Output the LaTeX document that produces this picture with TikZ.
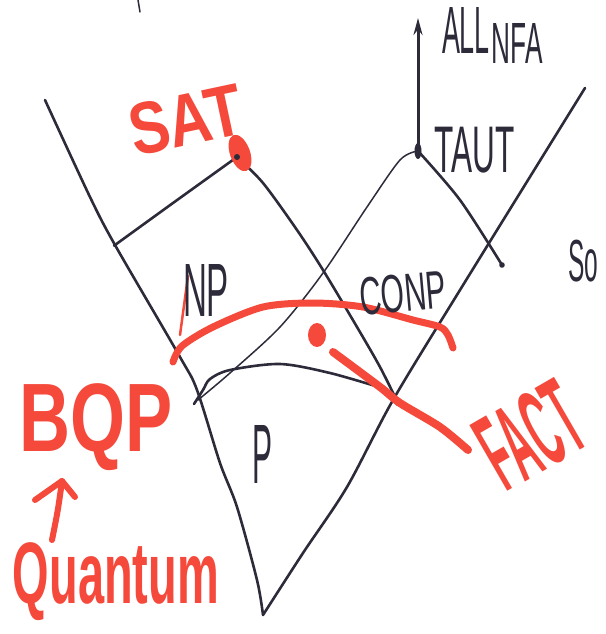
\documentclass[tikz,border=0pt]{standalone}
\usepackage{fontspec}
\setmainfont{Liberation Sans}
\usetikzlibrary{arrows.meta}
\definecolor{skink}{HTML}{2D2B3A}
\definecolor{skred}{HTML}{F4493B}
\tikzset{
  skpen/.style={
    draw=skink,
    line width=2.6pt,
    line cap=round,
    line join=round
  },
  skthin/.style={skpen, line width=1.5pt},
  skmarker/.style={
    draw=skred,
    line width=7pt,
    line cap=round,
    line join=round
  },
  skinklabel/.style={text=skink, inner sep=0pt},
  skredlabel/.style={text=skred, inner sep=0pt, font=\bfseries}
}
\newcommand{\skfit}[3]{\resizebox*{#1pt}{#2pt}{#3}}

\begin{document}
\begin{tikzpicture}[x=1pt,y=-1pt]
  \useasboundingbox (0,0) rectangle (605,634);

  % corner points of the cones
  \coordinate (sat) at (237,157);
  \coordinate (taut) at (418,151);
  \coordinate (allnfa) at (418,18);
  \coordinate (tip) at (263,615);
  \coordinate (npfoot) at (115,245);
  \coordinate (tautend) at (502,265);
  \coordinate (npend) at (398,403);
  \coordinate (conpend) at (198,400);
  \coordinate (pend) at (382,388);
  \coordinate (arrfoot) at (52,540);
  \coordinate (arrtip) at (62,481);

  % stray stroke at the top
  \draw[skthin] (138,0) -- (140,12);

  % outer cone
  \draw[skpen] plot[smooth] coordinates {(45,100) (90,197) (npfoot) (180,357)
    (197,390) (220,463) (237,507) (257,580) (tip)};
  \draw[skpen] plot[smooth] coordinates {(tip) (303,553) (347,487) (393,400)
    (460,290) (585,88)};

  % NP below SAT
  \draw[skpen] plot[smooth] coordinates {(npfoot) (173,203) (sat)};
  \draw[skpen] plot[smooth] coordinates {(sat) (263,183) (297,230) (323,270)
    (357,327) (380,367) (npend)};

  % coNP below TAUT
  \draw[skpen, line width=3pt, -{Stealth[length=17pt,width=9pt]}] (taut) -- (allnfa);
  \fill[skink] (taut) ellipse (3.5pt and 8pt);
  \draw[skpen] plot[smooth] coordinates {(taut) (460,200) (tautend)};
  \draw[skthin] plot[smooth] coordinates {(taut) (400,160) (367,207) (323,273)
    (280,327) (230,373) (conpend)};

  % P
  \draw[skpen] plot[smooth] coordinates {(194,404) (203,390) (210,379)
    (230,370) (280,364) (330,373) (pend)};
  \fill[skink] (pend) circle (3pt) (npend) circle (3pt)
    (tautend) circle (2.8pt) (npfoot) circle (2.2pt);

  % red marks
  \draw[skmarker] plot[smooth] coordinates {(173,362) (182,346) (213,327)
    (263,307) (313,303) (363,307) (413,320) (440,327) (448,335) (453,348)};
  \draw[skmarker, line width=8pt] plot[smooth] coordinates {(333,352) (380,387)
    (400,403) (440,427) (468,450)};
  \draw[skmarker, line width=2.5pt] (188,276) -- (180,335);
  \fill[skred] (317,335) ellipse (9pt and 12pt);
  \fill[skred, rotate around={20:(240,153)}] (240,153) ellipse (10pt and 19pt);
  \fill[skink] (sat) circle (3pt);
  \draw[skmarker, line width=6pt] (arrfoot) .. controls (58,510) .. (arrtip);
  \draw[skmarker, line width=6pt] (35,500) -- (arrtip) -- (75,497);

  % labels
  \node[skinklabel] (lall) at (466,30) {\skfit{48}{46}{ALL}};
  \node[skinklabel] (lnfa) at (517,43) {\skfit{51}{40}{NFA}};
  \node[skinklabel] (ltaut) at (475,150) {\skfit{80}{46}{TAUT}};
  \node[skinklabel] (lnp) at (206,290) {\skfit{46}{52}{NP}};
  \node[skinklabel, rotate=5] (lconp) at (403,293) {\skfit{87}{38}{CONP}};
  \node[skinklabel] (lp) at (262,454) {\skfit{20}{58}{P}};
  \node[skinklabel] (lso) at (583,261) {\skfit{30}{42}{So}};
  \node[skredlabel, rotate=12] (lsat) at (186,120) {\skfit{115}{52}{SAT}};
  \node[skredlabel, rotate=30] (lfact) at (530,435) {\skfit{100}{78}{FACT}};
  \node[skredlabel] (lbqp) at (96,427) {\skfit{153}{87}{BQP}};
  \node[skredlabel] (lquantum) at (116,582) {\skfit{206}{78}{Quantum}};
\end{tikzpicture}
\end{document}
